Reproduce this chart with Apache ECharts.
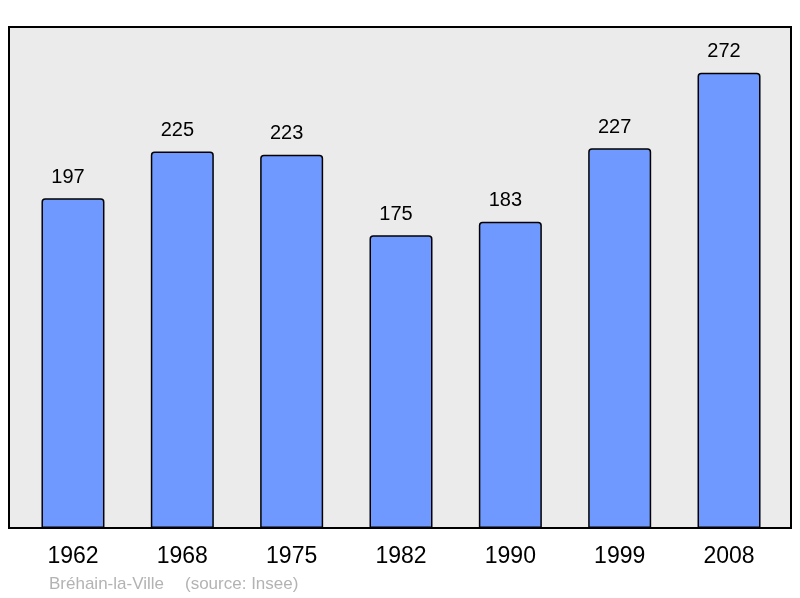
<!DOCTYPE html>
<html><head><meta charset="utf-8">
<script src="https://cdn.jsdelivr.net/npm/echarts@6/dist/echarts.min.js"></script>
<style>html,body{margin:0;padding:0;background:#fff}#c{width:800px;height:598px}</style>
</head><body><div id="c"></div>
<script>
const years = ['1962','1968','1975','1982','1990','1999','2008'];
const population = [197,225,223,175,183,227,272];
const placeName = 'Bréhain-la-Ville';
const sourceName = '(source: Insee)';

const chart = echarts.init(document.getElementById('c'), null, {renderer:'canvas'});
const FONT = 'Liberation Sans, Arial, sans-serif';
chart.setOption({
  animation:false,
  backgroundColor:'#ffffff',
  textStyle:{fontFamily:FONT},
  grid:[
    {left:9, top:27, width:782, height:501, show:true, backgroundColor:'#ebebeb', borderColor:'#000', borderWidth:2, z:0},
    {left:18.3, right:16.3, top:26, bottom:70}
  ],
  xAxis:[
    {gridIndex:0, type:'value', show:false, min:0, max:1},
    {gridIndex:1, type:'category', data:years, axisLine:{show:false}, axisTick:{show:false},
     axisLabel:{color:'#000', fontSize:23, margin:17, fontFamily:FONT}}
  ],
  yAxis:[
    {gridIndex:0, type:'value', show:false, min:0, max:1},
    {gridIndex:1, type:'value', min:0, max:300, show:false, splitLine:{show:false}}
  ],
  series:[{
    type:'bar', xAxisIndex:1, yAxisIndex:1, data:population, barWidth:63,
    itemStyle:{color:'#7099ff', borderColor:'#000', borderWidth:1.5, borderRadius:[3,3,0,0]},
    label:{show:true, position:'top', distance:11, offset:[-5,0], color:'#000', fontSize:20, fontFamily:FONT}
  }],
  graphic:[
    {type:'text', left:49, top:576, style:{text:placeName, fill:'#b3b3b3', font:'17px "Liberation Sans", Arial, sans-serif'}},
    {type:'text', left:185, top:576, style:{text:sourceName, fill:'#b3b3b3', font:'17px "Liberation Sans", Arial, sans-serif'}}
  ]
});
</script></body></html>
